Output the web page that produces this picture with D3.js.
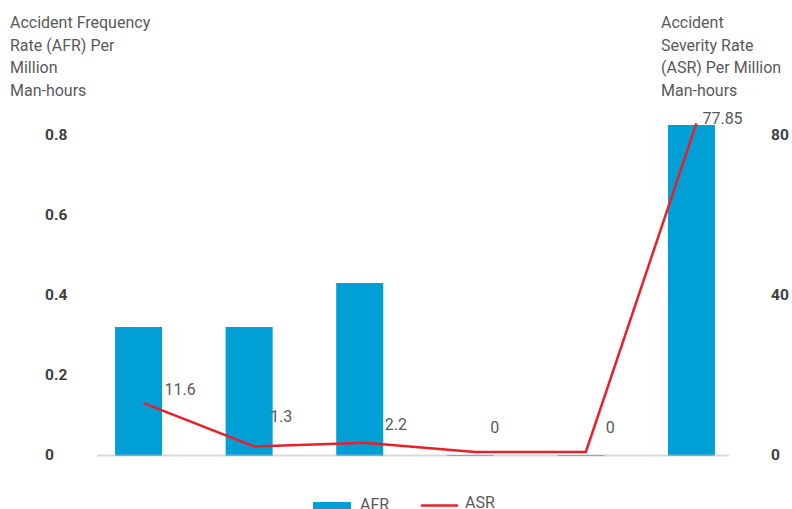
<!DOCTYPE html>
<html><head><meta charset="utf-8">
<script src="https://cdn.jsdelivr.net/npm/d3@7"></script>
<style>
html,body{margin:0;padding:0;background:#fff;}
svg{display:block;font-family:Roboto,"Noto Sans",sans-serif;}
</style></head>
<body><svg id="chart" width="792" height="509"></svg>
<script>
// ---- data ----
const categories = ["C1","C2","C3","C4","C5","C6"];
const afrValues = [0.32, 0.32, 0.43, 0, 0, 0.825];
const asrValues = [11.6, 1.3, 2.2, 0, 0, 77.85];
const asrLabels = ["11.6","1.3","2.2","0","0","77.85"];
const leftTicks = [0, 0.2, 0.4, 0.6, 0.8];
const rightTicks = [0, 40, 80];
const leftTitle = ["Accident Frequency","Rate (AFR) Per","Million","Man-hours"];
const rightTitle = ["Accident","Severity Rate","(ASR) Per Million","Man-hours"];
const seriesNames = ["AFR","ASR"];

// ---- style ----
const barColor = "#009FD6", lineColor = "#E8202A";
const textColor = "#595959", tickColor = "#404040";
const labelOffsets = [[21,-14],[16,-30],[20,-18],[15,-25],[20,-25],[6,-5]];

const svg = d3.select("#chart");
const x = d3.scaleBand().domain(categories).range([83, 747]).paddingInner(0.575).paddingOuter(0.29);
const yL = d3.scaleLinear().domain([0, 0.8]).range([455, 135]);
const yR = d3.scaleLinear().domain([0, 80]).range([455, 135]);
const yLine = d3.scaleLinear().domain([0, 80]).range([452, 114.4]);

// titles
svg.append("g").selectAll("text").data(leftTitle).join("text")
  .attr("x", 10).attr("y", (d,i)=>28 + i*22.7)
  .attr("fill", textColor).attr("font-size", 16).text(d=>d);
svg.append("g").selectAll("text").data(rightTitle).join("text")
  .attr("x", 661).attr("y", (d,i)=>28 + i*22.7)
  .attr("fill", textColor).attr("font-size", 16).text(d=>d);

// left axis
const axL = svg.append("g").attr("transform","translate(45,0)")
  .call(d3.axisLeft(yL).tickValues(leftTicks).tickSize(0).tickFormat(d=>d===0?"0":d3.format(".1f")(d)));
axL.select(".domain").remove();
axL.selectAll("text").attr("text-anchor","start").attr("x",0)
  .attr("font-size",15.5).attr("font-weight","bold").attr("fill",tickColor).attr("font-family","Roboto,sans-serif");

// right axis
const axR = svg.append("g").attr("transform","translate(771,0)")
  .call(d3.axisRight(yR).tickValues(rightTicks).tickSize(0).tickFormat(d3.format("d")));
axR.select(".domain").remove();
axR.selectAll("text").attr("x",0)
  .attr("font-size",15.5).attr("font-weight","bold").attr("fill",tickColor).attr("font-family","Roboto,sans-serif");

// bars
svg.append("g").selectAll("rect").data(afrValues).join("rect")
  .attr("x",(d,i)=>x(categories[i]))
  .attr("width",x.bandwidth())
  .attr("y",d=>yL(d))
  .attr("height",d=>yL(0)-yL(d)+1)
  .attr("fill",barColor);

// baseline
svg.append("line").attr("x1",97).attr("x2",729).attr("y1",yL(0)+0.5).attr("y2",yL(0)+0.5)
  .attr("stroke","#bfbfbf").attr("stroke-opacity",0.6).attr("stroke-width",2);

// line
const lx = (d,i)=>x(categories[i]) + x.bandwidth()/2 + 5;
svg.append("path").datum(asrValues)
  .attr("d", d3.line().x(lx).y(d=>yLine(d)))
  .attr("fill","none").attr("stroke",lineColor).attr("stroke-width",2.5);

// data labels
svg.append("g").selectAll("text").data(asrValues).join("text")
  .attr("x",(d,i)=>lx(d,i)+labelOffsets[i][0])
  .attr("y",(d,i)=>yLine(d)+labelOffsets[i][1])
  .attr("dy","0.35em")
  .attr("fill",textColor).attr("font-size",16).text((d,i)=>asrLabels[i]);

// legend
const lg = svg.append("g");
lg.append("rect").attr("x",313).attr("y",502).attr("width",38).attr("height",7).attr("fill",barColor);
lg.append("text").attr("x",360).attr("y",510).attr("fill",textColor).attr("font-size",16).text(seriesNames[0]);
lg.append("line").attr("x1",421).attr("x2",458).attr("y1",505.5).attr("y2",505.5).attr("stroke",lineColor).attr("stroke-width",2.5);
lg.append("text").attr("x",465).attr("y",508).attr("fill",textColor).attr("font-size",16).text(seriesNames[1]);
</script></body></html>
